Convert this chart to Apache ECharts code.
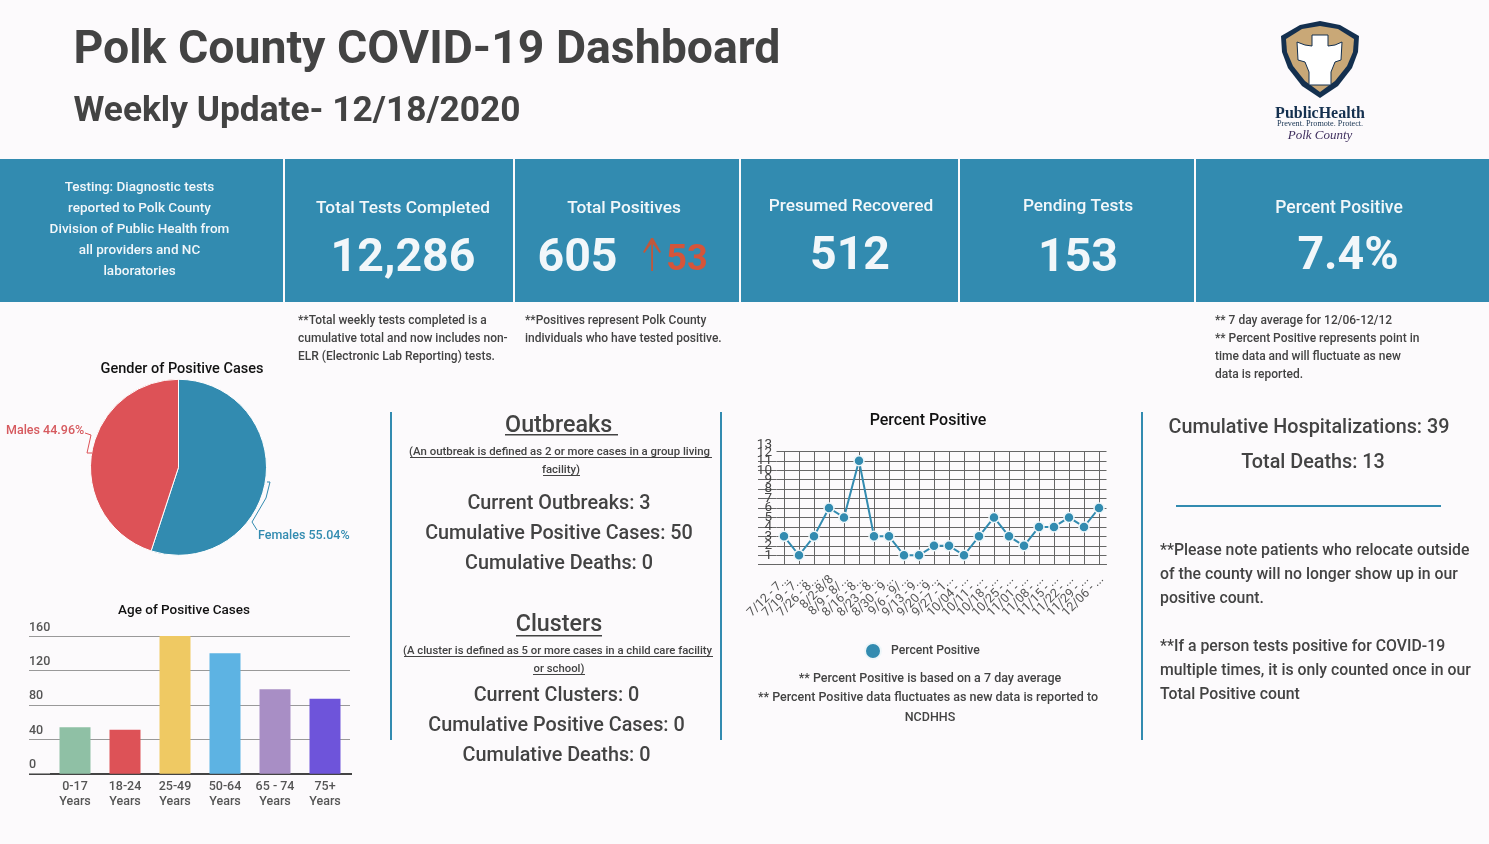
<!DOCTYPE html>
<html><head><meta charset="utf-8">
<style>html,body{margin:0;padding:0;background:#fcfafc}#c{width:1489px;height:844px}</style>
<script src="https://cdn.jsdelivr.net/npm/echarts@6/dist/echarts.min.js"></script>
</head><body><div id="c"></div>
<script>
const genderNames = ['Females', 'Males'];
const genderValues = [55.04, 44.96];
const ageCategories = ['0-17\nYears', '18-24\nYears', '25-49\nYears', '50-64\nYears', '65 - 74\nYears', '75+\nYears'];
const ageValues = [54, 51, 160, 140, 98, 87];
const weekLabels = ['7/12 - 7...', '7/19 - 7...', '7/26 - 8...', '8/2-8/8', '8/9 - 8/...', '8/16 - 8...', '8/23 - 8...', '8/30 - 9...', '9/6 - 9/...', '9/13 - 9...', '9/20 - 9...', '9/27 - 1...', '10/04 - ...', '10/11 - ...', '10/18 - ...', '10/25 - ...', '11/01 - ...', '11/08 - ...', '11/15 - ...', '11/22 - ...', '11/29 - ...', '12/06 - ...'];
const percentPositive = [3, 1, 3, 6, 5, 11, 3, 3, 1, 1, 2, 2, 1, 3, 5, 3, 2, 4, 4, 5, 4, 6];

const BLUE = '#328bb0', INK = '#434343', FONT = 'Roboto';
const g = [];
function rect(x, y, w, h, fill) { g.push({type:'rect', silent:true, shape:{x,y,width:w,height:h}, style:{fill}}); }
function txt(text, x, y, size, o) {
  o = o || {};
  g.push({type:'text', silent:true, z:10, style:{text, x, y, fontSize:size, fontFamily:o.family||FONT, fontWeight:o.weight||'500', fontStyle:o.style||'normal',
    fill:o.fill||INK, align:o.align||'center', verticalAlign:'middle'}});
}
function poly(points, color) { g.push({type:'polyline', silent:true, z:6, shape:{points}, style:{stroke:color, lineWidth:1, fill:'none'}}); }
function shape(points, fill, z, stroke) { g.push({type:'polygon', silent:true, z, shape:{points}, style:{fill, stroke:stroke||'none', lineWidth:1}}); }

// header
txt('Polk County COVID-19 Dashboard', 73.5, 51, 46.4, {weight:'bold', align:'left'});
txt('Weekly Update- 12/18/2020', 73.5, 112, 35.3, {weight:'bold', align:'left'});

// logo
shape([[1320,21],[1300,25],[1281,36],[1282,52],[1288,68],[1302,86],[1320,98],[1338,86],[1352,68],[1358,52],[1359,36],[1340,25]],'#14304f',5);
shape([[1320,26],[1302,29],[1286,39],[1287,52],[1293,66],[1305,81],[1320,92],[1335,81],[1347,66],[1353,52],[1354,39],[1338,29]],'#c9a877',6);
shape([[1312,35],[1328,35],[1328,46],[1335,45],[1342,42],[1341,60],[1335,62],[1331,72],[1331,85],[1309,85],[1309,72],[1305,62],[1298,60],[1297,42],[1305,45],[1312,46]],'#fff',7,'#14304f');
txt('PublicHealth', 1320, 114, 16, {family:'Liberation Serif', weight:'bold', fill:'#14304f'});
txt('Prevent. Promote. Protect.', 1320, 123.5, 8.2, {family:'Liberation Serif', weight:'normal', fill:'#14304f'});
txt('Polk County', 1320, 136, 13, {family:'Liberation Serif', weight:'normal', style:'italic', fill:'#40305f'});

// cards
[[0,283],[285,513],[515,739],[741,958],[960,1194],[1196,1489]].forEach(c => rect(c[0],159,c[1]-c[0],143,BLUE));
const W = '#f2f7fa';
['Testing: Diagnostic tests','reported to Polk County','Division of Public Health from','all providers and NC','laboratories'].forEach((s,i)=>txt(s,139.5,188+21*i,13.5,{fill:W}));
txt('Total Tests Completed',403,209,17.3,{fill:W});
txt('12,286',403,259,46.5,{fill:W,weight:'bold'});
txt('Total Positives',624,209,17.3,{fill:W});
txt('605',577.5,259,46.5,{fill:W,weight:'bold'});
shape([[651.2,238],[653,238],[661,252],[659.5,253],[653,244],[653,271],[651.2,271],[651.2,244],[644.5,253],[643,252]],'#c0583c',8);
txt('53',687,261,36,{fill:'#d4553a',weight:'bold'});
txt('Presumed Recovered',851,207,17.3,{fill:W});
txt('512',850,257,46.5,{fill:W,weight:'bold'});
txt('Pending Tests',1078,207,17.3,{fill:W});
txt('153',1078,259,46.5,{fill:W,weight:'bold'});
txt('Percent Positive',1339,209,17.5,{fill:W});
txt('7.4%',1348,257,46.5,{fill:W,weight:'bold'});

// notes below cards
['**Total weekly tests completed is a','cumulative total and now includes non-','ELR (Electronic Lab Reporting) tests.'].forEach((s,i)=>txt(s,298,321+18*i,12,{align:'left'}));
['**Positives represent Polk County','individuals who have tested positive.'].forEach((s,i)=>txt(s,525,321+18*i,12,{align:'left'}));
['** 7 day average for 12/06-12/12','** Percent Positive represents point in','time data and will fluctuate as new','data is reported.'].forEach((s,i)=>txt(s,1215,321+18*i,12,{align:'left'}));

// chart titles
txt('Gender of Positive Cases',182,369,14.5,{fill:'#111'});
txt('Age of Positive Cases',184,611,13.5,{fill:'#111'});
txt('Percent Positive',928,421,16,{fill:'#111'});
txt('13',772,445,13.5,{align:'right',weight:'normal'});
txt('12',772,453,13.5,{align:'right',weight:'normal'});

// separators
[391,721,1142].forEach(x=>rect(x-1,412,2,328,BLUE));
rect(1176,505,265,2,BLUE);

// middle column
txt('Outbreaks ',561.5,426,23.3); rect(505,434,113,1.5,INK);
txt('(An outbreak is defined as 2 or more cases in a group living ',561,452,11.4); rect(410,457,302,1,INK);
txt('facility)',561,470,11.4); rect(543,475,37,1,INK);
['Current Outbreaks: 3','Cumulative Positive Cases: 50','Cumulative Deaths: 0'].forEach((s,i)=>txt(s,559,504+30*i,19.8));
txt('Clusters',559,625,23.3); rect(516,635,86,1.5,INK);
txt('(A cluster is defined as 5 or more cases in a child care facility ',559,651,11.3); rect(404,656,309,1,INK);
txt('or school)',559,669,11.3); rect(533,674,52,1,INK);
['Current Clusters: 0','Cumulative Positive Cases: 0','Cumulative Deaths: 0'].forEach((s,i)=>txt(s,556.5,696+30*i,19.8));

// line chart footnotes
txt('** Percent Positive is based on a 7 day average',930,679,12.5);
txt('** Percent Positive data fluctuates as new data is reported to',928,698,12.5);
txt('NCDHHS',930,718,12.5);

// right column
txt('Cumulative Hospitalizations: 39',1309,428,19.8);
txt('Total Deaths: 13',1313,463,19.8);
['**Please note patients who relocate outside','of the county will no longer show up in our','positive count.'].forEach((s,i)=>txt(s,1160,551+24*i,15.8,{align:'left'}));
['**If a person tests positive for COVID-19','multiple times, it is only counted once in our','Total Positive count'].forEach((s,i)=>txt(s,1160,647+24*i,15.8,{align:'left'}));

// pie leader lines and bar axis extension
poly([[267,482],[270,482],[266,498],[252,522],[257,530]], BLUE);
poly([[92,453],[87,453],[91,435],[85,433]], '#dd5257');
rect(29,773,21,2,'#444');
rect(350,773,2,2,'#444');

const chart = echarts.init(document.getElementById('c'));
chart.setOption({
  animation:false,
  backgroundColor:'#fcfafc',
  textStyle:{fontFamily:FONT},
  graphic:g,
  legend:{data:['Percent Positive'], left:859, top:637, icon:'circle', itemWidth:16, itemHeight:16, itemGap:10,
    textStyle:{fontSize:12.2,fontWeight:500,color:INK,fontFamily:FONT,padding:[0,0,0,5]}},
  grid:[
    {left:50, width:300, top:636, height:137.7},
    {left:776.5, width:330, top:451.3, height:113.4}
  ],
  xAxis:[
    {gridIndex:0, type:'category', data:ageCategories, axisTick:{show:false},
      axisLine:{lineStyle:{color:'#444',width:2}},
      axisLabel:{interval:0,fontSize:12.5,fontWeight:500,color:'#555',lineHeight:15,margin:6,fontFamily:FONT}},
    {gridIndex:1, type:'category', data:weekLabels,
      axisTick:{show:false},
      axisLine:{lineStyle:{color:'#666',width:1}},
      splitLine:{show:true, alignWithLabel:true, lineStyle:{color:'#666',width:1}},
      axisLabel:{interval:0, rotate:45, fontSize:12.5, color:'#555', margin:10, lineHeight:8, verticalAlign:'top', fontFamily:FONT}}
  ],
  yAxis:[
    {gridIndex:0, type:'value', min:0, max:160, interval:40,
      axisLine:{show:false}, axisTick:{show:true,length:21,lineStyle:{color:'#999'}},
      splitLine:{lineStyle:{color:'#999',width:1}},
      axisLabel:{align:'left',verticalAlign:'bottom',margin:21,padding:[0,0,2,0],fontSize:12.5,fontWeight:500,color:'#555',fontFamily:FONT}},
    {gridIndex:1, type:'value', min:0, max:12, interval:1,
      axisLine:{show:false}, axisTick:{show:true,length:18.5,lineStyle:{color:'#666'}},
      splitLine:{lineStyle:{color:'#666',width:1}},
      axisLabel:{showMaxLabel:false,margin:4.5,fontSize:13.5,color:INK,fontFamily:FONT,formatter:v=>v===0?'':String(v)}}
  ],
  series:[
    {type:'pie', name:'Gender', center:[178.5,467.3], radius:[0,88], startAngle:90, clockwise:true,
      data:genderNames.map((n,i)=>({name:n,value:genderValues[i],itemStyle:{color:[BLUE,'#dd5257'][i]},label:{color:[BLUE,'#d65a5f'][i]}})),
      itemStyle:{borderColor:'#fff',borderWidth:1},
      label:{show:true,formatter:'{b} {c}%',fontSize:12.5,fontWeight:500,fontFamily:FONT,overflow:'none'},
      labelLine:{show:false},
      labelLayout:p=>p.dataIndex===0?{x:258,y:536,align:'left',verticalAlign:'middle'}:{x:6,y:431,align:'left',verticalAlign:'middle'}},
    {type:'bar', name:'Age', xAxisIndex:0, yAxisIndex:0, barWidth:31,
      data:ageValues.map((v,i)=>({value:v,itemStyle:{color:['#8fc0a5','#dd5257','#efc963','#5db3e3','#a88ec5','#6e54da'][i]}}))},
    {type:'line', name:'Percent Positive', xAxisIndex:1, yAxisIndex:1, data:percentPositive, symbol:'circle', symbolSize:10,
      lineStyle:{color:BLUE,width:2}, itemStyle:{color:BLUE,borderColor:'#eef6f9',borderWidth:1.5}}
  ]
});
</script></body></html>
